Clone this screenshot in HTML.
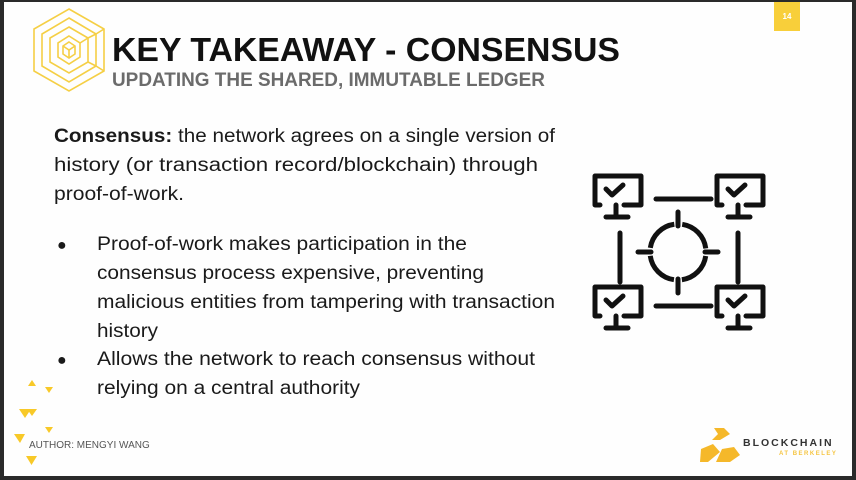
<!DOCTYPE html>
<html><head><meta charset="utf-8"><style>
html,body{margin:0;padding:0;background:#333;}
svg{display:block}
</style></head><body>
<svg width="856" height="480" viewBox="0 0 856 480" xmlns="http://www.w3.org/2000/svg" font-family="Liberation Sans, sans-serif">
<rect x="0" y="0" width="856" height="480" fill="#2a2a2a"/>
<rect x="4" y="2" width="848" height="474" fill="#fefefe"/>
<g fill="none" stroke="#f5cf45" stroke-width="1.6">
<polygon points="69,9 104,29 104,71 69,91 34,71 34,29"/>
<polygon points="69,18 96,34 96,66 69,82 42,66 42,34"/>
<polygon points="69,27 88,38 88,62 69,73 50,62 50,38"/>
<polygon points="69,36 80,43 80,57 69,64 58,57 58,43"/>
<polygon points="69,42 75,46 75,54 69,58 63,54 63,46"/>
<polyline points="63,46 69,50 75,46"/>
<line x1="69" y1="50" x2="69" y2="58"/>
<line x1="96" y1="34" x2="104" y2="29"/><line x1="88" y1="38" x2="96" y2="34"/><line x1="80" y1="43" x2="88" y2="38"/>
<line x1="96" y1="66" x2="104" y2="71"/><line x1="88" y1="62" x2="96" y2="66"/>
</g>
<text x="112" y="61" font-size="33" font-weight="bold" fill="#111" textLength="508" lengthAdjust="spacingAndGlyphs">KEY TAKEAWAY - CONSENSUS</text>
<text x="112" y="86" font-size="19" font-weight="bold" fill="#6b6b6b" textLength="433" lengthAdjust="spacingAndGlyphs">UPDATING THE SHARED, IMMUTABLE LEDGER</text>
<rect x="774" y="2" width="26" height="29" fill="#f8cf3a"/>
<text x="787" y="19" font-size="8" font-weight="bold" fill="#fff" text-anchor="middle">14</text>
<g font-size="19" fill="#1a1a1a" lengthAdjust="spacingAndGlyphs">
<text x="54" y="142" textLength="501" lengthAdjust="spacingAndGlyphs"><tspan font-weight="bold">Consensus:</tspan> the network agrees on a single version of</text>
<text x="54" y="171" textLength="484" lengthAdjust="spacingAndGlyphs">history (or transaction record/blockchain) through</text>
<text x="54" y="200" textLength="130" lengthAdjust="spacingAndGlyphs">proof-of-work.</text>
<text x="57" y="250" font-size="16">●</text>
<text x="97" y="250" textLength="370" lengthAdjust="spacingAndGlyphs">Proof-of-work makes participation in the</text>
<text x="97" y="279" textLength="387" lengthAdjust="spacingAndGlyphs">consensus process expensive, preventing</text>
<text x="97" y="308" textLength="458" lengthAdjust="spacingAndGlyphs">malicious entities from tampering with transaction</text>
<text x="97" y="337" textLength="61" lengthAdjust="spacingAndGlyphs">history</text>
<text x="57" y="365" font-size="16">●</text>
<text x="97" y="365" textLength="438" lengthAdjust="spacingAndGlyphs">Allows the network to reach consensus without</text>
<text x="97" y="394" textLength="263" lengthAdjust="spacingAndGlyphs">relying on a central authority</text>
</g>
<g fill="none" stroke="#111" stroke-width="5" stroke-linecap="round" stroke-linejoin="round">
<g id="m">
<path d="M600,205 L595,205 L595,176 L641,176 L641,205 L624,205"/>
<path d="M606,189 L612,195 L623,185"/>
<line x1="616" y1="205" x2="616" y2="215"/>
<line x1="606" y1="217" x2="628" y2="217"/>
</g>
<use href="#m" x="122" y="0"/>
<use href="#m" x="0" y="111"/>
<use href="#m" x="122" y="111"/>
<line x1="656" y1="199" x2="711" y2="199"/>
<line x1="656" y1="306" x2="711" y2="306"/>
<line x1="620" y1="233" x2="620" y2="282"/>
<line x1="738" y1="233" x2="738" y2="282"/>
<circle cx="678" cy="252" r="28" stroke-dasharray="36 8" stroke-dashoffset="-4" stroke-linecap="butt"/>
<line x1="678" y1="212" x2="678" y2="226"/>
<line x1="678" y1="279" x2="678" y2="293"/>
<line x1="638" y1="252" x2="651" y2="252"/>
<line x1="705" y1="252" x2="718" y2="252"/>
</g>
<g fill="#f8c928">
<polygon points="32,380 36,386 28,386"/>
<polygon points="45,387 53,387 49,393"/>
<polygon points="19,409 31,409 25,418"/>
<polygon points="27,409 37,409 32,416"/>
<polygon points="45,427 53,427 49,433"/>
<polygon points="14,434 25,434 20,443"/>
<polygon points="26,456 37,456 31.5,465"/>
</g>
<text x="29" y="448" font-size="10" fill="#555">AUTHOR: MENGYI WANG</text>
<g fill="#f5b82a">
<polygon points="714,428 724,428 730,434 720,440 712,440 718,434"/>
<polygon points="701,449 713,444 720,452 708,462 700,462"/>
<polygon points="722,449 734,447 740,455 730,462 716,462"/>
</g>
<text x="743" y="446" font-size="10.5" font-weight="bold" fill="#333" letter-spacing="2">BLOCKCHAIN</text>
<text x="779" y="455" font-size="6" font-weight="bold" fill="#f5c542" letter-spacing="1.5">AT BERKELEY</text>
</svg>
</body></html>
